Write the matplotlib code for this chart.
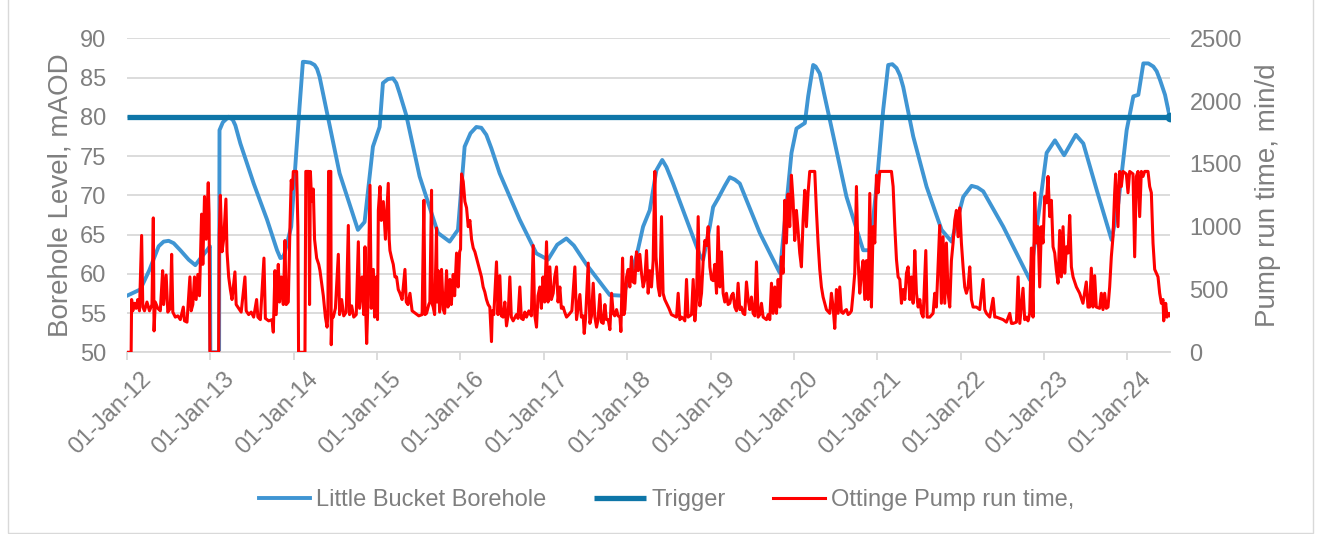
import matplotlib
matplotlib.use("Agg")
import matplotlib.pyplot as plt
import matplotlib.transforms as mtransforms
from matplotlib.patches import Rectangle

plt.rcParams['font.family'] = ['Liberation Sans', 'DejaVu Sans']

# Рівень у свердловині Little Bucket (рік у десяткових частках, mAOD)
borehole_points = [
    (2012.00, 57.2), (2012.16, 58.0), (2012.27, 60.5), (2012.38, 63.5), (2012.44, 64.1),
    (2012.50, 64.2), (2012.56, 63.9), (2012.64, 63.0), (2012.74, 61.8), (2012.82, 61.1),
    (2012.87, 61.8), (2012.96, 63.0), (2012.995, 63.5), (2013.00, 50.0), (2013.105, 50.0),
    (2013.11, 78.3), (2013.15, 79.3), (2013.22, 80.0), (2013.27, 79.6), (2013.30, 78.9),
    (2013.36, 76.6), (2013.52, 71.5), (2013.68, 66.9), (2013.80, 63.0), (2013.84, 62.0),
    (2013.87, 62.1), (2013.89, 62.6), (2013.97, 66.0), (2014.03, 75.4), (2014.07, 81.3),
    (2014.11, 87.0), (2014.13, 87.0), (2014.20, 86.9), (2014.25, 86.6), (2014.28, 86.1),
    (2014.31, 85.1), (2014.41, 80.0), (2014.55, 72.8), (2014.77, 65.6), (2014.85, 66.6),
    (2014.95, 76.2), (2015.03, 78.7), (2015.07, 84.3), (2015.13, 84.8), (2015.19, 84.9),
    (2015.23, 84.3), (2015.27, 83.0), (2015.35, 80.2), (2015.51, 72.4), (2015.73, 65.2),
    (2015.87, 64.1), (2015.97, 65.6), (2016.05, 76.2), (2016.12, 77.9), (2016.19, 78.7),
    (2016.25, 78.6), (2016.31, 77.7), (2016.37, 76.0), (2016.47, 72.8), (2016.71, 66.9),
    (2016.91, 62.6), (2017.05, 61.8), (2017.16, 63.7), (2017.27, 64.5), (2017.36, 63.6),
    (2017.51, 61.2), (2017.79, 57.3), (2017.95, 57.2), (2018.11, 62.2), (2018.19, 66.0),
    (2018.27, 68.1), (2018.35, 73.2), (2018.42, 74.5), (2018.47, 73.6), (2018.55, 71.5),
    (2018.87, 62.4), (2018.91, 61.8), (2018.99, 66.0), (2019.03, 68.5), (2019.09, 69.6),
    (2019.17, 71.2), (2019.23, 72.3), (2019.29, 72.0), (2019.35, 71.5), (2019.59, 65.2),
    (2019.83, 60.1), (2019.97, 75.4), (2020.03, 78.5), (2020.13, 79.2), (2020.17, 82.6),
    (2020.23, 86.6), (2020.26, 86.4), (2020.31, 85.5), (2020.36, 83.0), (2020.43, 79.6),
    (2020.63, 69.8), (2020.83, 63.0), (2020.91, 63.0), (2020.99, 71.1), (2021.07, 80.9),
    (2021.13, 86.6), (2021.18, 86.7), (2021.23, 86.2), (2021.27, 85.3), (2021.31, 83.8),
    (2021.43, 77.5), (2021.59, 71.1), (2021.77, 65.6), (2021.89, 64.1), (2022.03, 69.8),
    (2022.13, 71.2), (2022.20, 71.0), (2022.27, 70.5), (2022.51, 66.0), (2022.83, 59.2),
    (2023.03, 75.4), (2023.13, 77.0), (2023.24, 75.1), (2023.38, 77.7), (2023.47, 76.6),
    (2023.63, 70.7), (2023.81, 64.3), (2023.89, 69.0), (2023.99, 78.3), (2024.07, 82.6),
    (2024.13, 82.8), (2024.19, 86.8), (2024.25, 86.8), (2024.31, 86.4), (2024.35, 85.8),
    (2024.39, 84.7), (2024.45, 82.8), (2024.51, 79.8),
]

trigger_level = 80
trigger_span = [2012.00, 2024.51]

# Час роботи насоса Ottinge (хв/добу)
pump_points = [
    (2012.000, 0), (2012.050, 0), (2012.056, 420), (2012.070, 330), (2012.090, 390),
    (2012.110, 350), (2012.130, 420), (2012.150, 330), (2012.176, 930), (2012.190, 360),
    (2012.210, 330), (2012.240, 400), (2012.270, 330), (2012.300, 380), (2012.316, 1070),
    (2012.325, 170), (2012.340, 400), (2012.370, 350), (2012.400, 330), (2012.428, 650),
    (2012.440, 380), (2012.470, 615), (2012.490, 320), (2012.520, 350), (2012.536, 780),
    (2012.550, 320), (2012.580, 280), (2012.610, 290), (2012.640, 260), (2012.676, 360),
    (2012.690, 250), (2012.720, 240), (2012.755, 600), (2012.770, 330), (2012.790, 380),
    (2012.810, 600), (2012.830, 420), (2012.850, 620), (2012.870, 450), (2012.895, 1100),
    (2012.910, 700), (2012.930, 1240), (2012.950, 900), (2012.975, 1350), (2012.985, 1100),
    (2012.995, 0), (2013.100, 0), (2013.107, 930), (2013.120, 1250), (2013.140, 800),
    (2013.160, 900), (2013.187, 1220), (2013.200, 800), (2013.220, 600), (2013.240, 500),
    (2013.260, 420), (2013.295, 640), (2013.310, 380), (2013.340, 350), (2013.370, 320),
    (2013.415, 600), (2013.430, 330), (2013.460, 300), (2013.490, 320), (2013.520, 280),
    (2013.555, 420), (2013.570, 280), (2013.600, 260), (2013.643, 750), (2013.660, 270),
    (2013.700, 250), (2013.740, 260), (2013.755, 160), (2013.775, 650), (2013.790, 300),
    (2013.815, 700), (2013.830, 400), (2013.850, 600), (2013.875, 380), (2013.895, 890),
    (2013.910, 380), (2013.935, 400), (2013.955, 1000), (2013.970, 1370), (2013.985, 1300),
    (2013.995, 1440), (2014.035, 1440), (2014.050, 1000), (2014.058, 0), (2014.135, 0),
    (2014.145, 1440), (2014.180, 1440), (2014.190, 380), (2014.200, 1440), (2014.215, 1200),
    (2014.235, 1300), (2014.250, 900), (2014.275, 750), (2014.300, 700), (2014.315, 650),
    (2014.335, 550), (2014.355, 450), (2014.380, 280), (2014.400, 200), (2014.410, 300),
    (2014.418, 1440), (2014.445, 1440), (2014.450, 60), (2014.460, 300), (2014.475, 280),
    (2014.500, 350), (2014.535, 780), (2014.550, 300), (2014.575, 420), (2014.600, 290),
    (2014.630, 320), (2014.655, 1010), (2014.670, 300), (2014.695, 370), (2014.720, 280),
    (2014.750, 300), (2014.775, 880), (2014.790, 350), (2014.820, 600), (2014.840, 300),
    (2014.855, 840), (2014.865, 300), (2014.875, 70), (2014.890, 400), (2014.915, 1330),
    (2014.930, 350), (2014.955, 660), (2014.970, 280), (2014.990, 600), (2015.005, 260),
    (2015.015, 1130), (2015.035, 1320), (2015.050, 1050), (2015.075, 1200), (2015.100, 900),
    (2015.115, 1100), (2015.134, 1345), (2015.145, 900), (2015.154, 810), (2015.174, 750),
    (2015.194, 700), (2015.214, 600), (2015.234, 600), (2015.254, 500), (2015.274, 470),
    (2015.300, 420), (2015.334, 660), (2015.350, 400), (2015.370, 380), (2015.394, 470),
    (2015.420, 330), (2015.460, 310), (2015.500, 290), (2015.540, 300), (2015.561, 1210),
    (2015.575, 300), (2015.593, 310), (2015.620, 380), (2015.633, 400), (2015.653, 1290),
    (2015.663, 380), (2015.673, 360), (2015.690, 300), (2015.713, 990), (2015.720, 400),
    (2015.733, 650), (2015.750, 320), (2015.773, 660), (2015.793, 340), (2015.810, 310),
    (2015.833, 650), (2015.850, 360), (2015.873, 580), (2015.890, 380), (2015.913, 620),
    (2015.930, 450), (2015.953, 790), (2015.973, 520), (2015.990, 800), (2016.001, 820),
    (2016.013, 1420), (2016.033, 1360), (2016.053, 1200), (2016.073, 1150), (2016.093, 1000),
    (2016.113, 1050), (2016.133, 900), (2016.153, 830), (2016.173, 800), (2016.193, 750),
    (2016.212, 700), (2016.232, 650), (2016.252, 600), (2016.272, 520), (2016.292, 480),
    (2016.312, 420), (2016.332, 380), (2016.352, 360), (2016.372, 85), (2016.382, 330),
    (2016.400, 300), (2016.432, 720), (2016.450, 300), (2016.472, 610), (2016.490, 290),
    (2016.512, 280), (2016.532, 400), (2016.552, 210), (2016.572, 300), (2016.592, 600),
    (2016.610, 280), (2016.632, 250), (2016.670, 300), (2016.690, 270), (2016.712, 520),
    (2016.730, 270), (2016.752, 260), (2016.772, 320), (2016.792, 280), (2016.820, 330),
    (2016.850, 290), (2016.872, 850), (2016.890, 300), (2016.912, 200), (2016.930, 450),
    (2016.952, 520), (2016.970, 350), (2016.990, 600), (2017.010, 400), (2017.032, 880),
    (2017.050, 400), (2017.072, 680), (2017.090, 420), (2017.112, 470), (2017.130, 600),
    (2017.152, 680), (2017.170, 400), (2017.192, 520), (2017.210, 350), (2017.232, 360),
    (2017.250, 320), (2017.272, 280), (2017.300, 300), (2017.336, 330), (2017.372, 680),
    (2017.392, 260), (2017.432, 460), (2017.450, 280), (2017.472, 290), (2017.484, 150),
    (2017.500, 270), (2017.532, 710), (2017.552, 230), (2017.572, 290), (2017.592, 550),
    (2017.612, 280), (2017.632, 200), (2017.650, 260), (2017.672, 460), (2017.690, 240),
    (2017.712, 230), (2017.732, 380), (2017.750, 260), (2017.772, 260), (2017.792, 180),
    (2017.812, 470), (2017.832, 310), (2017.850, 290), (2017.872, 340), (2017.890, 290),
    (2017.912, 280), (2017.924, 165), (2017.944, 750), (2017.960, 300), (2017.972, 340),
    (2017.992, 600), (2018.012, 660), (2018.031, 520), (2018.051, 760), (2018.070, 560),
    (2018.091, 550), (2018.111, 800), (2018.131, 650), (2018.151, 780), (2018.171, 630),
    (2018.191, 520), (2018.211, 580), (2018.231, 810), (2018.251, 470), (2018.271, 650),
    (2018.291, 520), (2018.311, 730), (2018.331, 1440), (2018.345, 760), (2018.371, 520),
    (2018.390, 450), (2018.411, 1080), (2018.430, 470), (2018.450, 420), (2018.471, 390),
    (2018.500, 350), (2018.530, 300), (2018.560, 290), (2018.591, 280), (2018.611, 470),
    (2018.631, 260), (2018.651, 280), (2018.671, 270), (2018.691, 250), (2018.711, 580),
    (2018.730, 280), (2018.751, 290), (2018.771, 300), (2018.791, 580), (2018.811, 250),
    (2018.831, 420), (2018.851, 1080), (2018.871, 370), (2018.891, 470), (2018.911, 730),
    (2018.931, 890), (2018.951, 850), (2018.971, 1000), (2018.991, 680), (2019.011, 580),
    (2019.031, 570), (2019.050, 700), (2019.071, 470), (2019.090, 1000), (2019.111, 520),
    (2019.130, 800), (2019.150, 470), (2019.170, 400), (2019.190, 470), (2019.210, 380),
    (2019.230, 390), (2019.250, 450), (2019.270, 470), (2019.290, 360), (2019.310, 330),
    (2019.330, 550), (2019.350, 340), (2019.370, 360), (2019.390, 310), (2019.410, 300),
    (2019.430, 560), (2019.450, 420), (2019.470, 340), (2019.490, 440), (2019.510, 310),
    (2019.530, 290), (2019.550, 720), (2019.570, 280), (2019.590, 300), (2019.610, 390),
    (2019.630, 280), (2019.650, 270), (2019.670, 260), (2019.690, 300), (2019.710, 260),
    (2019.730, 550), (2019.750, 310), (2019.770, 520), (2019.790, 310), (2019.810, 580),
    (2019.830, 360), (2019.850, 760), (2019.870, 630), (2019.889, 1210), (2019.909, 870),
    (2019.929, 1260), (2019.949, 1000), (2019.969, 1410), (2019.989, 1210), (2020.009, 890),
    (2020.029, 1130), (2020.049, 970), (2020.069, 790), (2020.089, 680), (2020.109, 1050),
    (2020.129, 1290), (2020.149, 1000), (2020.169, 1270), (2020.189, 1440), (2020.249, 1440),
    (2020.269, 1130), (2020.289, 870), (2020.309, 660), (2020.329, 520), (2020.349, 440),
    (2020.369, 390), (2020.389, 340), (2020.429, 310), (2020.449, 470), (2020.469, 360),
    (2020.489, 190), (2020.509, 500), (2020.529, 310), (2020.549, 520), (2020.569, 320),
    (2020.589, 310), (2020.609, 330), (2020.629, 340), (2020.649, 300), (2020.669, 310),
    (2020.689, 330), (2020.709, 470), (2020.729, 630), (2020.749, 1320), (2020.769, 730),
    (2020.789, 470), (2020.809, 630), (2020.829, 730), (2020.849, 420), (2020.869, 730),
    (2020.889, 420), (2020.909, 1265), (2020.929, 360), (2020.949, 1000), (2020.969, 870),
    (2020.989, 1410), (2021.009, 1270), (2021.029, 1440), (2021.169, 1440), (2021.189, 1320),
    (2021.209, 1000), (2021.229, 740), (2021.249, 600), (2021.269, 580), (2021.289, 390),
    (2021.309, 500), (2021.329, 420), (2021.349, 630), (2021.369, 680), (2021.389, 420),
    (2021.409, 600), (2021.429, 390), (2021.449, 810), (2021.469, 470), (2021.489, 360),
    (2021.509, 420), (2021.529, 310), (2021.549, 280), (2021.581, 810), (2021.597, 280),
    (2021.628, 280), (2021.668, 310), (2021.688, 470), (2021.708, 360), (2021.728, 680),
    (2021.748, 1010), (2021.768, 390), (2021.788, 920), (2021.808, 390), (2021.828, 870),
    (2021.848, 470), (2021.868, 360), (2021.888, 730), (2021.908, 870), (2021.928, 1050),
    (2021.948, 1130), (2021.968, 920), (2021.988, 1150), (2022.008, 870), (2022.028, 680),
    (2022.048, 520), (2022.068, 470), (2022.088, 520), (2022.108, 680), (2022.128, 420),
    (2022.148, 360), (2022.188, 360), (2022.228, 340), (2022.268, 580), (2022.288, 340),
    (2022.308, 310), (2022.348, 280), (2022.388, 430), (2022.408, 280), (2022.428, 280),
    (2022.468, 270), (2022.508, 260), (2022.548, 240), (2022.588, 310), (2022.608, 230),
    (2022.628, 230), (2022.668, 240), (2022.688, 600), (2022.708, 230), (2022.747, 510),
    (2022.767, 260), (2022.787, 280), (2022.807, 250), (2022.827, 310), (2022.847, 830),
    (2022.867, 280), (2022.887, 1270), (2022.907, 870), (2022.927, 1000), (2022.947, 520),
    (2022.967, 1000), (2022.987, 870), (2023.007, 1240), (2023.027, 1190), (2023.047, 1400),
    (2023.067, 1080), (2023.087, 1210), (2023.107, 840), (2023.127, 790), (2023.147, 650),
    (2023.167, 550), (2023.187, 970), (2023.207, 600), (2023.227, 1000), (2023.247, 630),
    (2023.267, 840), (2023.287, 790), (2023.307, 1090), (2023.327, 680), (2023.347, 600),
    (2023.387, 520), (2023.426, 470), (2023.466, 390), (2023.506, 560), (2023.526, 360),
    (2023.546, 360), (2023.566, 670), (2023.586, 360), (2023.606, 610), (2023.626, 360),
    (2023.666, 350), (2023.686, 470), (2023.706, 340), (2023.726, 470), (2023.746, 350),
    (2023.766, 360), (2023.786, 520), (2023.806, 760), (2023.826, 920), (2023.846, 1270),
    (2023.858, 1420), (2023.874, 1190), (2023.886, 1000), (2023.906, 1440), (2023.926, 1320),
    (2023.946, 1440), (2023.986, 1420), (2024.006, 1270), (2024.026, 1440), (2024.066, 1420),
    (2024.086, 760), (2024.106, 1400), (2024.126, 1440), (2024.146, 1080), (2024.166, 1440),
    (2024.186, 1400), (2024.206, 1440), (2024.246, 1440), (2024.266, 1320), (2024.286, 1270),
    (2024.306, 870), (2024.326, 660), (2024.346, 630), (2024.366, 600), (2024.386, 470),
    (2024.406, 390), (2024.426, 420), (2024.434, 250), (2024.458, 390), (2024.474, 280),
    (2024.498, 310), (2024.514, 290),
]

tick_years = list(range(2012, 2025))
tick_labels = [f"01-Jan-{y % 100:02d}" for y in tick_years]

GREY = '#7F7F7F'
GRID = '#D9D9D9'

bh_year, bh_level = zip(*borehole_points)
pump_points = sorted(pump_points)
pump_year, pump_mins = zip(*pump_points)

fig = plt.figure(figsize=(13.17, 5.34), dpi=100)
ax = fig.add_axes([0.0964, 0.3403, 0.792, 0.588])
ax2 = ax.twinx()

l1, = ax.plot(bh_year, bh_level, color='#3F95D3', lw=2.8, label='Little Bucket Borehole', zorder=2)
l2, = ax.plot(trigger_span, [trigger_level] * 2, color='#0E76A8', lw=3.8,
              solid_capstyle='butt', label='Trigger', zorder=3)
ax.plot(trigger_span[-1:], [trigger_level], 'o', color='#0E76A8', ms=6, zorder=3)
l3, = ax2.plot(pump_year, pump_mins, color='#FF0000', lw=2.2, label='Ottinge Pump run time,')

ax.set_xlim(2012.0, 2024.51)
ax.set_ylim(50, 90)
ax2.set_ylim(0, 2500)
ax.set_yticks(range(50, 91, 5))
ax2.set_yticks(range(0, 2501, 500))
ax.grid(axis='y', color=GRID, lw=1.3)
ax.set_axisbelow(True)

for a in (ax, ax2):
    for s in ('top', 'left', 'right'):
        a.spines[s].set_visible(False)
ax2.spines['bottom'].set_visible(False)
ax.spines['bottom'].set_color(GRID)
ax.spines['bottom'].set_linewidth(1.3)

ax.set_xticks(tick_years)
ax.set_xticklabels(tick_labels, rotation=45, ha='right', rotation_mode='anchor')
ax.tick_params(axis='x', length=6, width=1.3, color=GRID, labelcolor=GREY, labelsize=17, pad=5)
ax.tick_params(axis='y', length=0, labelcolor=GREY, labelsize=17, pad=15)
ax2.tick_params(axis='y', length=0, labelcolor=GREY, labelsize=17, pad=14)

# зсув підписів дат трохи праворуч, як у Excel
offset = mtransforms.ScaledTranslation(13 / 100, 0, fig.dpi_scale_trans)
for lbl in ax.get_xticklabels():
    lbl.set_transform(lbl.get_transform() + offset)

ax.set_ylabel('Borehole Level, mAOD', fontsize=20, color=GREY)
ax.yaxis.set_label_coords(-0.051, 0.5)
ax2.set_ylabel('Pump run time, min/d', fontsize=20, color=GREY)
ax2.yaxis.set_label_coords(1.081, 0.5)

fig.legend(handles=[l1, l2, l3], loc='center', bbox_to_anchor=(0.506, 0.064), ncol=3,
           frameon=False, fontsize=17, handlelength=2.2, handletextpad=0.25,
           columnspacing=2.0, labelcolor=GREY)

fig.patches.append(Rectangle((8 / 1317, 0.002), 1305 / 1317, 1.1, transform=fig.transFigure,
                             fill=False, edgecolor=GRID, lw=1))

fig.savefig('out.png', dpi=100)
